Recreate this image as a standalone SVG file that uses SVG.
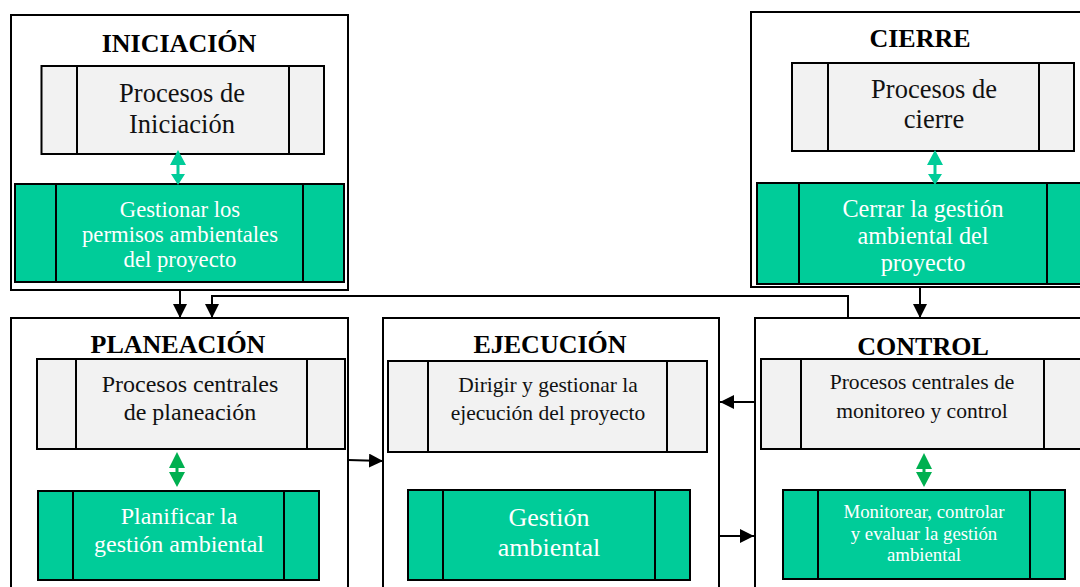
<svg xmlns="http://www.w3.org/2000/svg" width="1080" height="587" viewBox="0 0 1080 587">
  <style>
    .phase { fill: #ffffff; stroke: #000000; stroke-width: 2; }
    .grey { fill: #f2f2f2; stroke: #000000; stroke-width: 2; }
    .teal { fill: #00cc99; stroke: #000000; stroke-width: 2; }
    .div { stroke: #000000; stroke-width: 2; }
    .title { font-family: "Liberation Serif", "Times New Roman", serif; font-weight: bold; font-size: 26px; fill: #000000; text-anchor: middle; }
    .gt { font-family: "Liberation Serif", "Times New Roman", serif; fill: #111111; text-anchor: middle; }
    .wt { font-family: "Liberation Serif", "Times New Roman", serif; fill: #ffffff; text-anchor: middle; }
    .flow { fill: none; stroke: #000000; stroke-width: 2; }
  </style>
  <defs>
    <marker id="arrowBlack" viewBox="0 0 14 14" refX="14" refY="7" markerWidth="14" markerHeight="14" markerUnits="userSpaceOnUse" orient="auto">
      <path d="M0,0 L14,7 L0,14 Z" fill="#000000"/>
    </marker>
  </defs>

  <!-- INICIACIÓN -->
  <g id="iniciacion">
    <rect class="phase" x="11" y="15" width="337" height="275"/>
    <text class="title" x="179" y="52">INICIACIÓN</text>
    <rect class="grey" x="41.5" y="66" width="282.5" height="88"/>
    <line class="div" x1="77" y1="66" x2="77" y2="154"/>
    <line class="div" x1="289" y1="66" x2="289" y2="154"/>
    <text class="gt" font-size="26.5" x="182" y="102">Procesos de</text>
    <text class="gt" font-size="26.5" x="182" y="133">Iniciación</text>
    <rect class="teal" x="15" y="184" width="329" height="98"/>
    <line class="div" x1="56" y1="184" x2="56" y2="282"/>
    <line class="div" x1="303" y1="184" x2="303" y2="282"/>
    <text class="wt" font-size="22.7" x="180" y="217">Gestionar los</text>
    <text class="wt" font-size="22.7" x="180" y="242">permisos ambientales</text>
    <text class="wt" font-size="22.7" x="180" y="267">del proyecto</text>
    <path d="M178,150 L186,165 L179.5,165 L179.5,174 L185,174 L178,185 L171,174 L176.5,174 L176.5,165 L170,165 Z" fill="#00cc99"/>
  </g>

  <!-- CIERRE -->
  <g id="cierre">
    <rect class="phase" x="751" y="12" width="340" height="275"/>
    <text class="title" x="920" y="47">CIERRE</text>
    <rect class="grey" x="792" y="63" width="282" height="88"/>
    <line class="div" x1="828" y1="63" x2="828" y2="151"/>
    <line class="div" x1="1039" y1="63" x2="1039" y2="151"/>
    <text class="gt" font-size="26.5" x="934" y="98">Procesos de</text>
    <text class="gt" font-size="26.5" x="934" y="128">cierre</text>
    <rect class="teal" x="757" y="183" width="330" height="101"/>
    <line class="div" x1="799" y1="183" x2="799" y2="284"/>
    <line class="div" x1="1047" y1="183" x2="1047" y2="284"/>
    <text class="wt" font-size="24.2" x="923" y="217">Cerrar la gestión</text>
    <text class="wt" font-size="24.2" x="923" y="244">ambiental del</text>
    <text class="wt" font-size="24.2" x="923" y="271">proyecto</text>
    <path d="M935,150 L943,165 L936.5,165 L936.5,174 L942,174 L935,185 L928,174 L933.5,174 L933.5,165 L927,165 Z" fill="#00cc99"/>
  </g>

  <!-- PLANEACIÓN -->
  <g id="planeacion">
    <rect class="phase" x="11" y="318" width="337" height="280"/>
    <text class="title" x="178" y="353">PLANEACIÓN</text>
    <rect class="grey" x="37" y="359" width="308" height="90"/>
    <line class="div" x1="76" y1="359" x2="76" y2="449"/>
    <line class="div" x1="307" y1="359" x2="307" y2="449"/>
    <text class="gt" font-size="24" x="190" y="392">Procesos centrales</text>
    <text class="gt" font-size="24" x="190" y="420">de planeación</text>
    <rect class="teal" x="38" y="491" width="281" height="89"/>
    <line class="div" x1="73" y1="491" x2="73" y2="580"/>
    <line class="div" x1="284" y1="491" x2="284" y2="580"/>
    <text class="wt" font-size="24" x="179" y="524">Planificar la</text>
    <text class="wt" font-size="24" x="179" y="552">gestión ambiental</text>
    <path d="M177,452 L185,468 L178.5,468 L178.5,472 L185,472 L177,487 L169,472 L175.5,472 L175.5,468 L169,468 Z" fill="#00b050"/>
  </g>

  <!-- EJECUCIÓN -->
  <g id="ejecucion">
    <rect class="phase" x="383" y="318" width="336" height="280"/>
    <text class="title" x="550" y="353">EJECUCIÓN</text>
    <rect class="grey" x="388" y="361" width="319" height="91"/>
    <line class="div" x1="428" y1="361" x2="428" y2="452"/>
    <line class="div" x1="667" y1="361" x2="667" y2="452"/>
    <text class="gt" font-size="21.5" x="548" y="392">Dirigir y gestionar la</text>
    <text class="gt" font-size="21.5" x="548" y="420">ejecución del proyecto</text>
    <rect class="teal" x="408" y="490" width="282" height="90"/>
    <line class="div" x1="443" y1="490" x2="443" y2="580"/>
    <line class="div" x1="655" y1="490" x2="655" y2="580"/>
    <text class="wt" font-size="26" x="549" y="526">Gestión</text>
    <text class="wt" font-size="26" x="549" y="556">ambiental</text>
  </g>

  <!-- CONTROL -->
  <g id="control">
    <rect class="phase" x="755" y="318" width="340" height="280"/>
    <text class="title" x="923" y="355">CONTROL</text>
    <rect class="grey" x="761" y="359" width="330" height="90"/>
    <line class="div" x1="801" y1="359" x2="801" y2="449"/>
    <line class="div" x1="1044" y1="359" x2="1044" y2="449"/>
    <text class="gt" font-size="21.6" x="922" y="389">Procesos centrales de</text>
    <text class="gt" font-size="21.6" x="922" y="418">monitoreo y control</text>
    <rect class="teal" x="783" y="490" width="282" height="89"/>
    <line class="div" x1="818" y1="490" x2="818" y2="579"/>
    <line class="div" x1="1030" y1="490" x2="1030" y2="579"/>
    <text class="wt" font-size="18.8" x="924" y="518">Monitorear, controlar</text>
    <text class="wt" font-size="18.8" x="924" y="540">y evaluar la gestión</text>
    <text class="wt" font-size="18.8" x="924" y="561">ambiental</text>
    <path d="M924,453 L932,469 L925.5,469 L925.5,472 L932,472 L924,487 L916,472 L922.5,472 L922.5,469 L916,469 Z" fill="#00b050"/>
  </g>

  <!-- connectors between phases -->
  <g id="connectors">
    <path class="flow" d="M180,290 L180,318" marker-end="url(#arrowBlack)"/>
    <path class="flow" d="M848,318 L848,296 L212,296 L212,318" marker-end="url(#arrowBlack)"/>
    <path class="flow" d="M920,287 L920,318" marker-end="url(#arrowBlack)"/>
    <path class="flow" d="M348,460 L383,461" marker-end="url(#arrowBlack)"/>
    <path class="flow" d="M755,402 L720,402" marker-end="url(#arrowBlack)"/>
    <path class="flow" d="M719,536 L754,536" marker-end="url(#arrowBlack)"/>
  </g>
</svg>
